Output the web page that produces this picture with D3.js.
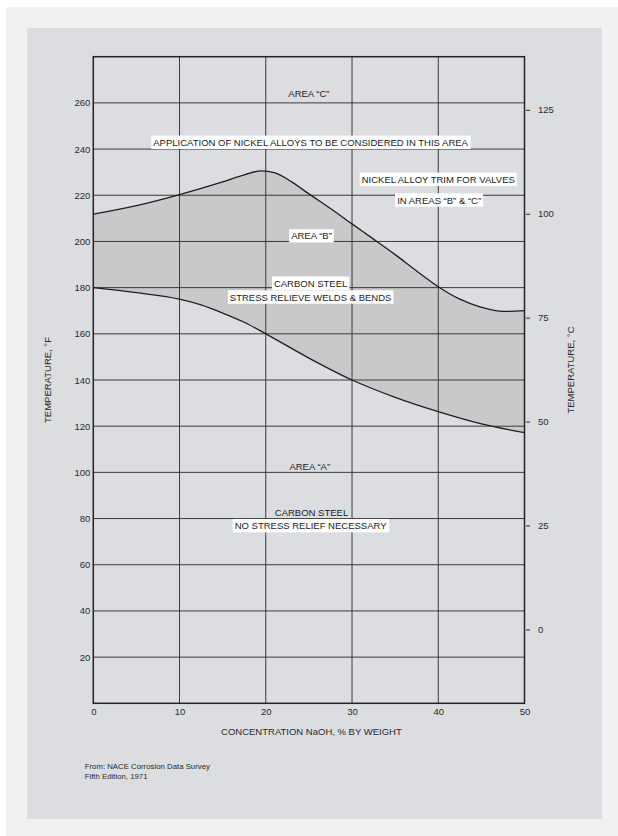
<!DOCTYPE html>
<html>
<head>
<meta charset="utf-8">
<script src="https://cdn.jsdelivr.net/npm/d3@7"></script>
<style>
html,body{margin:0;padding:0;background:#fff;}
svg{display:block;font-family:"Liberation Sans",Arial,Helvetica,sans-serif;}
</style>
</head>
<body>
<svg id="chart" width="618" height="836"></svg>
<script>
// ---- data ----
const xTicks = [0, 10, 20, 30, 40, 50];
const yTicksF = [20, 40, 60, 80, 100, 120, 140, 160, 180, 200, 220, 240, 260];
const yTicksC = [0, 25, 50, 75, 100, 125];
// upper boundary (Area B / Area C), °F vs % NaOH
const upperX = [0, 5, 10, 15, 17.5, 19.5, 21, 23, 25, 27.5, 30, 32.5, 35, 37.5, 40, 42.5, 45, 47.5, 50];
const upperF = [211.8, 215.5, 220.3, 225.8, 228.8, 230.6, 229.8, 225.8, 220.6, 214.3, 207.6, 201, 194.3, 187.2, 180.4, 175, 171.5, 169.7, 170];
// lower boundary (Area A / Area B)
const lowerX = [0, 5, 10, 12.5, 15, 17.5, 20, 25, 30, 35, 40, 45, 50];
const lowerF = [180, 177.8, 175, 172.5, 169, 165, 160, 149.5, 140, 132.5, 126.3, 121, 117.2];
const labels = [
  {text: "AREA \u201CC\u201D", x: 25, y: 263.5, box: false},
  {text: "APPLICATION OF NICKEL ALLOYS TO BE CONSIDERED IN THIS AREA", x: 25.2, y: 242.5, box: true},
  {text: "NICKEL ALLOY TRIM FOR VALVES", x: 40, y: 226.5, box: true},
  {text: "IN AREAS \u201CB\u201D & \u201CC\u201D", x: 40.1, y: 217.5, box: true},
  {text: "AREA \u201CB\u201D", x: 25.3, y: 202, box: true},
  {text: "CARBON STEEL", x: 25.2, y: 181.5, box: true},
  {text: "STRESS RELIEVE WELDS & BENDS", x: 25.2, y: 175.5, box: true},
  {text: "AREA \u201CA\u201D", x: 25.1, y: 102, box: false},
  {text: "CARBON STEEL", x: 25.3, y: 82, box: false},
  {text: "NO STRESS RELIEF NECESSARY", x: 25.2, y: 76.5, box: true}
];

// ---- layout ----
const svg = d3.select("#chart");
svg.append("rect").attr("x", 6).attr("y", 7).attr("width", 612).attr("height", 829).attr("fill", "#f1f1f1");
svg.append("rect").attr("x", 27).attr("y", 28).attr("width", 575).attr("height", 791).attr("fill", "#dcdde0");

const x = d3.scaleLinear().domain([0, 50]).range([93.3, 524.5]);
const y = d3.scaleLinear().domain([0, 280]).range([703.3, 56.7]);
const yC = d3.scaleLinear().domain([-17.78, 137.78]).range([703.3, 56.7]);

const upper = upperX.map((d, i) => [d, upperF[i]]);
const lower = lowerX.map((d, i) => [d, lowerF[i]]);
const lineFn = d3.line().x(d => x(d[0])).y(d => y(d[1])).curve(d3.curveMonotoneX);

// shaded area between the two curves (sampled along each path)
const lowerPathNode = svg.append("path").attr("d", lineFn(lower)).attr("fill", "none").node();
const upperPathNode = svg.append("path").attr("d", lineFn(upper)).attr("fill", "none").node();
function sample(node) {
  const L = node.getTotalLength(), pts = [];
  for (let i = 0; i <= 400; i++) { const p = node.getPointAtLength(L * i / 400); pts.push([p.x, p.y]); }
  return pts;
}
const upPts = sample(upperPathNode), lowPts = sample(lowerPathNode).reverse();
lowerPathNode.remove(); upperPathNode.remove();
svg.append("path").attr("d", d3.line()(upPts.concat(lowPts)) + "Z").attr("fill", "#c9c9cb");

// gridlines
const g = svg.append("g");
g.selectAll(".hg").data(yTicksF).join("line")
  .attr("x1", x(0)).attr("x2", x(50)).attr("y1", d => y(d)).attr("y2", d => y(d))
  .attr("stroke", "#3a3a3a").attr("stroke-width", 1);
g.selectAll(".vg").data(xTicks.slice(1, -1)).join("line")
  .attr("x1", d => x(d)).attr("x2", d => x(d)).attr("y1", y(0)).attr("y2", y(280))
  .attr("stroke", "#3a3a3a").attr("stroke-width", 1);

// curves
svg.append("path").attr("d", lineFn(upper)).attr("fill", "none").attr("stroke", "#1e1e1e").attr("stroke-width", 1.3);
svg.append("path").attr("d", lineFn(lower)).attr("fill", "none").attr("stroke", "#1e1e1e").attr("stroke-width", 1.3);

// frame
svg.append("rect").attr("x", x(0)).attr("y", y(280)).attr("width", x(50) - x(0)).attr("height", y(0) - y(280))
  .attr("fill", "none").attr("stroke", "#222").attr("stroke-width", 1.5);

// axes
const fs = 9.5;
const bottom = svg.append("g").attr("transform", `translate(0,${y(0)})`)
  .call(d3.axisBottom(x).tickValues(xTicks).tickSize(0).tickPadding(5));
const left = svg.append("g").attr("transform", `translate(${x(0)},0)`)
  .call(d3.axisLeft(y).tickValues(yTicksF).tickSize(0).tickPadding(3));
const right = svg.append("g").attr("transform", `translate(${x(50) + 1.5},0)`)
  .call(d3.axisRight(yC).tickValues(yTicksC).tickSize(4).tickPadding(8));
[bottom, left, right].forEach(a => {
  a.select(".domain").remove();
  a.selectAll("text").attr("font-size", fs).attr("fill", "#2a2a2a").attr("font-family", "Liberation Sans, Arial, sans-serif");
  a.selectAll("line").attr("stroke", "#2a2a2a");
});

// axis titles
svg.append("text").attr("transform", "translate(51,380) rotate(-90)").attr("text-anchor", "middle")
  .attr("font-size", 9.5).attr("fill", "#2a2a2a").text("TEMPERATURE, \u00B0F");
svg.append("text").attr("transform", "translate(574,370) rotate(-90)").attr("text-anchor", "middle")
  .attr("font-size", 9.5).attr("fill", "#2a2a2a").text("TEMPERATURE, \u00B0C");
svg.append("text").attr("x", 311.4).attr("y", 735).attr("text-anchor", "middle")
  .attr("font-size", 9.5).attr("fill", "#2a2a2a").text("CONCENTRATION NaOH, % BY WEIGHT");

// area labels
const lg = svg.append("g");
labels.forEach(l => {
  const t = lg.append("text").attr("x", x(l.x)).attr("y", y(l.y)).attr("text-anchor", "middle")
    .attr("dominant-baseline", "middle").attr("font-size", 9.5).attr("fill", "#222").text(l.text);
  if (l.box) {
    const b = t.node().getBBox();
    lg.insert("rect", () => t.node()).attr("x", b.x - 2).attr("y", b.y - 1.2).attr("width", b.width + 4).attr("height", b.height + 2.4).attr("fill", "#fff");
  }
});

// source
svg.append("text").attr("x", 84.7).attr("y", 769.3).attr("font-size", 7.8).attr("fill", "#2a2a2a").text("From: NACE Corrosion Data Survey");
svg.append("text").attr("x", 84.7).attr("y", 778.7).attr("font-size", 7.8).attr("fill", "#2a2a2a").text("Fifth Edition, 1971");
</script>
</body>
</html>
